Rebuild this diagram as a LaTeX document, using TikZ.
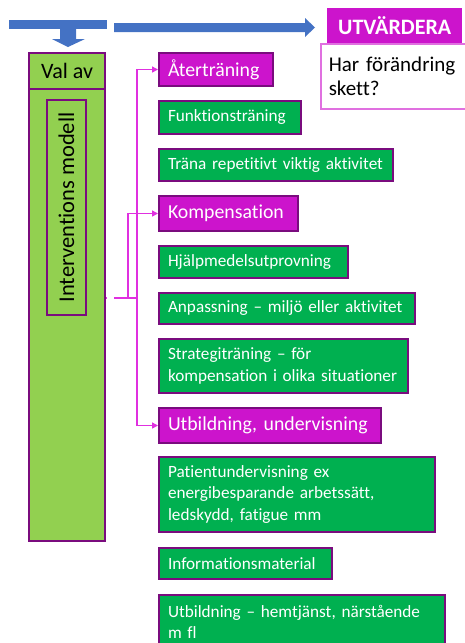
\documentclass[tikz,border=0pt]{standalone}
\usepackage{fontspec}
\setmainfont{Carlito}[Ligatures={NoCommon}]
\usetikzlibrary{arrows.meta}
\definecolor{mag}{HTML}{CC14CC}
\definecolor{purp}{HTML}{7A0C7E}
\definecolor{grn}{HTML}{00B050}
\definecolor{lgrn}{HTML}{92D050}
\definecolor{blu}{HTML}{4472C4}
\definecolor{conn}{HTML}{E030E0}
\definecolor{pinkb}{HTML}{E070E0}
\tikzset{
  box/.style={draw=purp, line width=2pt, anchor=north west, align=left, inner xsep=9pt, inner ysep=0pt},
  gbox/.style={box, fill=grn, text=white, font=\fontsize{17.2}{21.5}\selectfont},
  mbox/.style={box, fill=mag, text=white, font=\fontsize{19.8}{24}\selectfont},
  vbox/.style={draw=purp, line width=2pt, fill=lgrn, anchor=north west, inner sep=0pt, font=\fontsize{22}{26}\selectfont},
  conline/.style={draw=conn, line width=1.8pt},
  conarrow/.style={conline, -{Triangle[length=6pt,width=6pt]}},
  bluefill/.style={fill=blu, draw=none}
}
\begin{document}
\begin{tikzpicture}[x=1pt,y=-1pt]
\useasboundingbox (0,0) rectangle (465,643);
% blue arrows
\fill[blu] (9,20) rectangle (107,29);
\fill[blu] (60,29) -- (76,29) -- (76,39) -- (85,39) -- (68,47) -- (52,39) -- (60,39) -- cycle;
\fill[blu] (114,23) -- (305,23) -- (305,18) -- (315,27.5) -- (305,37) -- (305,32) -- (114,32) -- cycle;
% left column
\node[vbox, minimum width=76pt, minimum height=36pt] (val) at (28,52) {Val av};
\node[vbox, minimum width=76pt, minimum height=452pt] (main) at (28,88) {};
\node[draw=purp, line width=2pt, rotate=90, minimum width=215pt, minimum height=39pt, inner sep=0pt, font=\fontsize{22.5}{26}\selectfont] (model) at (66.5,207.5) {Interventions modell};
% evaluation
\node[fill=mag, text=white, anchor=north west, minimum width=135pt, minimum height=35pt, inner sep=0pt, font=\bfseries\fontsize{22}{26}\selectfont] (utv) at (327,8) {UTVÄRDERA};
\node[draw=pinkb, line width=1.5pt, fill=white, anchor=north west, align=left, text width=142pt, minimum height=65pt, inner xsep=8pt, inner ysep=0pt, font=\fontsize{21}{24}\selectfont] (har) at (320,43) {Har förändring\\skett?};
% right column
\node[mbox, text width=96pt, minimum height=33pt] (atr) at (158,52) {Återträning};
\node[gbox, text width=124pt, minimum height=33pt] (fun) at (158,100) {Funktionsträning};
\node[gbox, text width=216pt, minimum height=32pt] (tra) at (158,148) {Träna repetitivt viktig aktivitet};
\node[mbox, text width=121pt, minimum height=35pt] (komp) at (158,195) {Kompensation};
\node[gbox, text width=171pt, minimum height=32pt] (hjal) at (158,245) {Hjälpmedelsutprovning};
\node[gbox, text width=238pt, minimum height=31pt] (anp) at (158,292) {Anpassning – miljö eller aktivitet};
\node[gbox, text width=231pt, minimum height=54pt] (strat) at (158,338) {Strategiträning – för\\kompensation i olika situationer};
\node[mbox, text width=204pt, minimum height=35pt] (utb) at (158,407) {Utbildning, undervisning};
\node[gbox, text width=258pt, minimum height=75pt] (pat) at (158,456) {Patientundervisning ex\\energibesparande arbetssätt,\\ledskydd, fatigue mm};
\node[gbox, text width=155pt, minimum height=31pt] (inf) at (158,547) {Informationsmaterial};
\node[gbox, text width=268pt, minimum height=75pt] (hem) at (158,594) {Utbildning – hemtjänst, närstående\\m fl\\\mbox{}};
% connectors
\coordinate (s) at (main.east |- 0,298);
\coordinate (s2) at (107,298);
\coordinate (s3) at (114,298);
\coordinate (j) at (137,298);
\coordinate (k) at (128,298);
\draw[conline] (s) -- (s2);
\draw[conline] (s3) -- (j);
\draw[conarrow] (j) |- (atr.west);
\draw[conarrow] (j) |- (utb.west);
\draw[conarrow] (k) |- (komp.west);
\end{tikzpicture}
\end{document}
